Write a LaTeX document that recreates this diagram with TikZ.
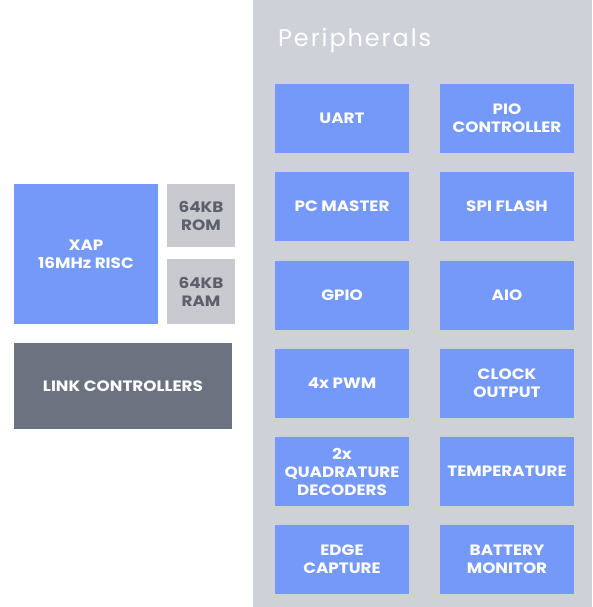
\documentclass[tikz,border=0pt]{standalone}
\usepackage{fontspec}
\setmainfont{Poppins}
\newfontfamily\blockfont{Poppins}[FakeStretch=1.12]
\newfontfamily\titlefont{Poppins}[LetterSpace=8]
\definecolor{panelgrey}{HTML}{CED1D8}
\definecolor{blk}{HTML}{7599F9}
\definecolor{memgrey}{HTML}{C8CACF}
\definecolor{linkgrey}{HTML}{6C7280}
\definecolor{memtext}{HTML}{5B606B}
\begin{document}
\begin{tikzpicture}[x=1pt,y=-1pt,
  blockbox/.style={rectangle, fill=blk, inner sep=0pt, minimum width=134pt, minimum height=69pt,
    align=center, text=white, font=\blockfont\bfseries\fontsize{15}{18}\selectfont},
  membox/.style={rectangle, fill=memgrey, inner sep=0pt, minimum width=68pt,
    align=center, text=memtext, font=\blockfont\bfseries\fontsize{15}{18}\selectfont},
  ]
\useasboundingbox (0,0) rectangle (593,607);
\fill[white] (0,0) rectangle (593,607);
\node[rectangle, fill=panelgrey, inner sep=0pt, minimum width=339pt, minimum height=607pt] (panel) at (422.5,303.5) {};
\node[anchor=base west, text=white, font=\titlefont\fontsize{24}{28}\selectfont, inner sep=0pt] (title) at (278,47) {Peripherals};

\node[blockbox] (uart) at (342,118.5) {UART};
\node[blockbox] (pio) at (507,118.5) {PIO\\CONTROLLER};
\node[blockbox] (pcm) at (342,206.5) {PC MASTER};
\node[blockbox] (spi) at (507,206.5) {SPI FLASH};
\node[blockbox] (gpio) at (342,295) {GPIO};
\node[blockbox] (aio) at (507,295) {AIO};
\node[blockbox] (pwm) at (342,383.5) {4x PWM};
\node[blockbox] (clk) at (507,383.5) {CLOCK\\OUTPUT};
\node[blockbox] (quad) at (342,471.5) {2x\\QUADRATURE\\DECODERS};
\node[blockbox] (temp) at (507,471.5) {TEMPERATURE};
\node[blockbox] (edge) at (342,559) {EDGE\\CAPTURE};
\node[blockbox] (batt) at (507,559) {BATTERY\\MONITOR};

\node[blockbox, minimum width=144pt, minimum height=140pt] (xap) at (86,254) {XAP\\16MHz RISC};
\node[membox, minimum height=63pt] (rom) at (201,215.5) {64KB\\ROM};
\node[membox, minimum height=65pt] (ram) at (201,291.5) {64KB\\RAM};
\node[blockbox, fill=linkgrey, minimum width=218pt, minimum height=86pt] (link) at (123,386) {LINK CONTROLLERS};
\end{tikzpicture}
\end{document}
